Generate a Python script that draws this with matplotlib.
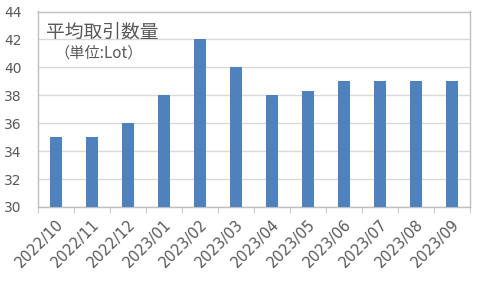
import matplotlib
matplotlib.use('Agg')
import matplotlib.pyplot as plt
import numpy as np

plt.rcParams['font.family'] = ['DejaVu Sans']

months = ['2022/10', '2022/11', '2022/12', '2023/01', '2023/02', '2023/03',
          '2023/04', '2023/05', '2023/06', '2023/07', '2023/08', '2023/09']
avg_lot = [35, 35, 36, 38, 42, 40, 38, 38.3, 39, 39, 39, 39]

fig = plt.figure(figsize=(4.8, 2.88), dpi=100)
ax = fig.add_axes([38/480, 1 - 207/288, 432/480, 195.5/288])

x = np.arange(len(months))
ax.bar(x, avg_lot, width=0.36, color='#4F81BD', zorder=3)

ax.set_xlim(-0.5, len(months) - 0.5)
ax.set_ylim(30, 44)
ax.set_yticks(range(30, 45, 2))
ax.yaxis.grid(True, color='#D9D9D9', linewidth=1, zorder=0)
ax.set_xticks(x)
ax.set_xticklabels(months, rotation=45, ha='right', rotation_mode='anchor')
ax.set_xticks(np.arange(-0.5, len(months), 1), minor=True)
ax.tick_params(axis='x', which='major', length=0, pad=7, labelsize=10.5, labelcolor='#595959')
ax.tick_params(axis='x', which='minor', length=4, color='#BFBFBF', direction='out')
ax.tick_params(axis='y', length=0, labelsize=10, labelcolor='#595959', pad=12)
for s in ax.spines.values():
    s.set_color('#BFBFBF')
    s.set_linewidth(1)

jp = ['Noto Sans CJK JP', 'DejaVu Sans']
fig.text(46/480, 1 - 32/288, '平均取引数量', fontsize=13.5, color='#595959',
         va='center', family=jp)
fig.text(54/480, 1 - 53/288, '（単位:Lot）', fontsize=11, color='#595959',
         va='center', family=jp)

fig.savefig('out.png', dpi=100)
